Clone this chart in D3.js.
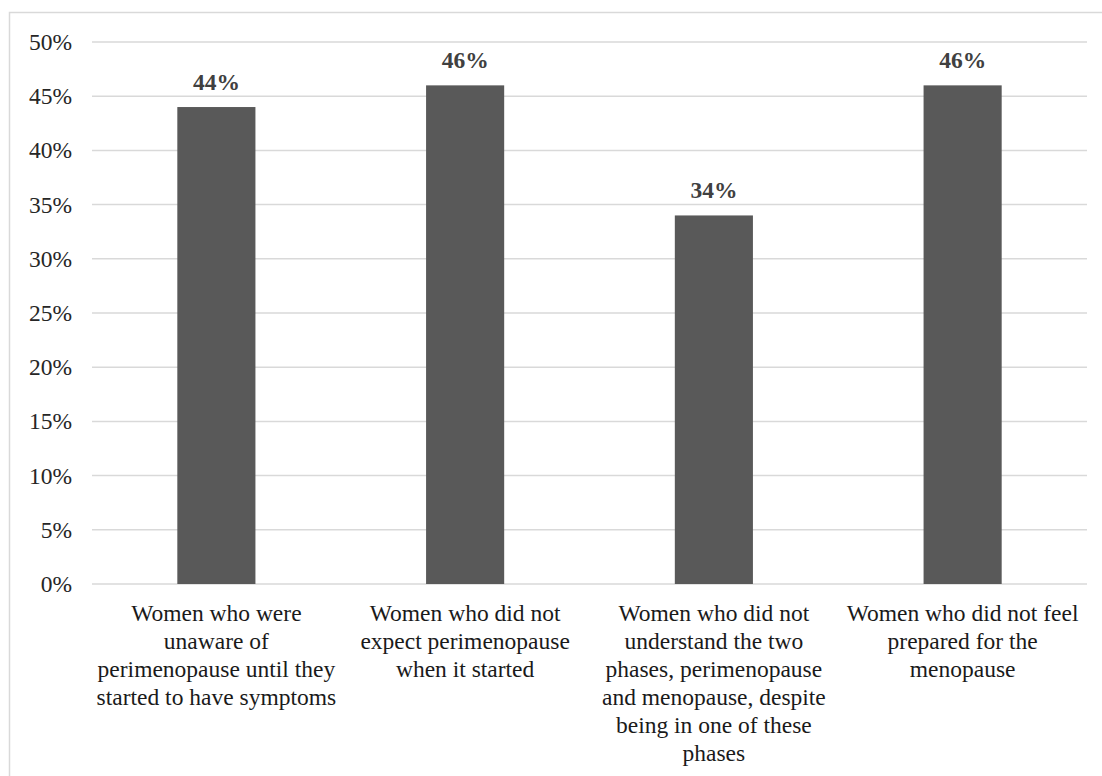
<!DOCTYPE html>
<html lang="en">
<head>
<meta charset="UTF-8"/>
<title>Menopause awareness bar chart</title>
<script src="https://d3js.org/d3.v7.min.js"></script>
<style>
    body { margin: 0; background: #fff; }
    svg text { font-family: "Liberation Serif", "Times New Roman", Times, "DejaVu Serif", serif; }
</style>
</head>
<body>
<script>
    // Data
    var categories = [
        ["Women who were", "unaware of", "perimenopause until they", "started to have symptoms"],
        ["Women who did not", "expect perimenopause", "when it started"],
        ["Women who did not", "understand the two", "phases, perimenopause", "and menopause, despite", "being in one of these", "phases"],
        ["Women who did not feel", "prepared for the", "menopause"]
    ];
    var values = [44, 46, 34, 46];
    var yTicks = [0, 5, 10, 15, 20, 25, 30, 35, 40, 45, 50];

    var w = 1102;
    var h = 776;
    var plotLeft = 92, plotRight = 1087, plotTop = 42, plotBottom = 584;
    var fontSize = "23.5px";

    var svg = d3.select("body")
        .append("svg")
        .attr("width", w)
        .attr("height", h);

    // Outer frame
    svg.append("rect")
        .attr("x", 9.5)
        .attr("y", 12.5)
        .attr("width", w)
        .attr("height", h)
        .attr("fill", "none")
        .attr("stroke", "#d9d9d9")
        .attr("stroke-width", 1.5);

    var x = d3.scaleBand()
        .domain(d3.range(categories.length))
        .range([plotLeft, plotRight])
        .paddingInner(0.686)
        .paddingOuter(0.343);

    var y = d3.scaleLinear()
        .domain([0, 50])
        .range([plotBottom, plotTop]);

    // Gridlines
    svg.selectAll("line.grid")
        .data(yTicks)
        .enter()
        .append("line")
        .attr("class", "grid")
        .attr("x1", plotLeft)
        .attr("x2", plotRight)
        .attr("y1", function(d) { return y(d); })
        .attr("y2", function(d) { return y(d); })
        .attr("stroke", "#d9d9d9")
        .attr("stroke-width", 1.5);

    // Y axis labels
    var yAxis = d3.axisLeft(y)
        .tickValues(yTicks)
        .tickSize(0)
        .tickPadding(20)
        .tickFormat(function(d) { return d + "%"; });

    var yg = svg.append("g")
        .attr("transform", "translate(" + plotLeft + ",0)")
        .call(yAxis)
        .attr("font-family", null);
    yg.select(".domain").remove();
    yg.selectAll("text")
        .style("font-size", fontSize)
        .attr("fill", "#262626");

    // Bars
    svg.selectAll("rect.bar")
        .data(values)
        .enter()
        .append("rect")
        .attr("class", "bar")
        .attr("x", function(d, i) { return x(i); })
        .attr("y", function(d) { return y(d); })
        .attr("width", x.bandwidth())
        .attr("height", function(d) { return y(0) - y(d); })
        .attr("fill", "#595959");

    // Value labels
    svg.selectAll("text.value")
        .data(values)
        .enter()
        .append("text")
        .attr("class", "value")
        .attr("x", function(d, i) { return x(i) + x.bandwidth() / 2; })
        .attr("y", function(d) { return y(d) - 17; })
        .attr("text-anchor", "middle")
        .style("font-size", fontSize)
        .style("font-weight", "bold")
        .attr("fill", "#404040")
        .text(function(d) { return d + "%"; });

    // Category labels, several lines each
    var cats = svg.selectAll("text.cat")
        .data(categories)
        .enter()
        .append("text")
        .attr("class", "cat")
        .attr("text-anchor", "middle")
        .style("font-size", fontSize)
        .attr("fill", "#1a1a1a");

    cats.selectAll("tspan")
        .data(function(d, i) { return d.map(function(s) { return { s: s, i: i }; }); })
        .enter()
        .append("tspan")
        .attr("x", function(d) { return x(d.i) + x.bandwidth() / 2; })
        .attr("y", function(d, j) { return plotBottom + 37 + j * 28; })
        .text(function(d) { return d.s; });
</script>
</body>
</html>
